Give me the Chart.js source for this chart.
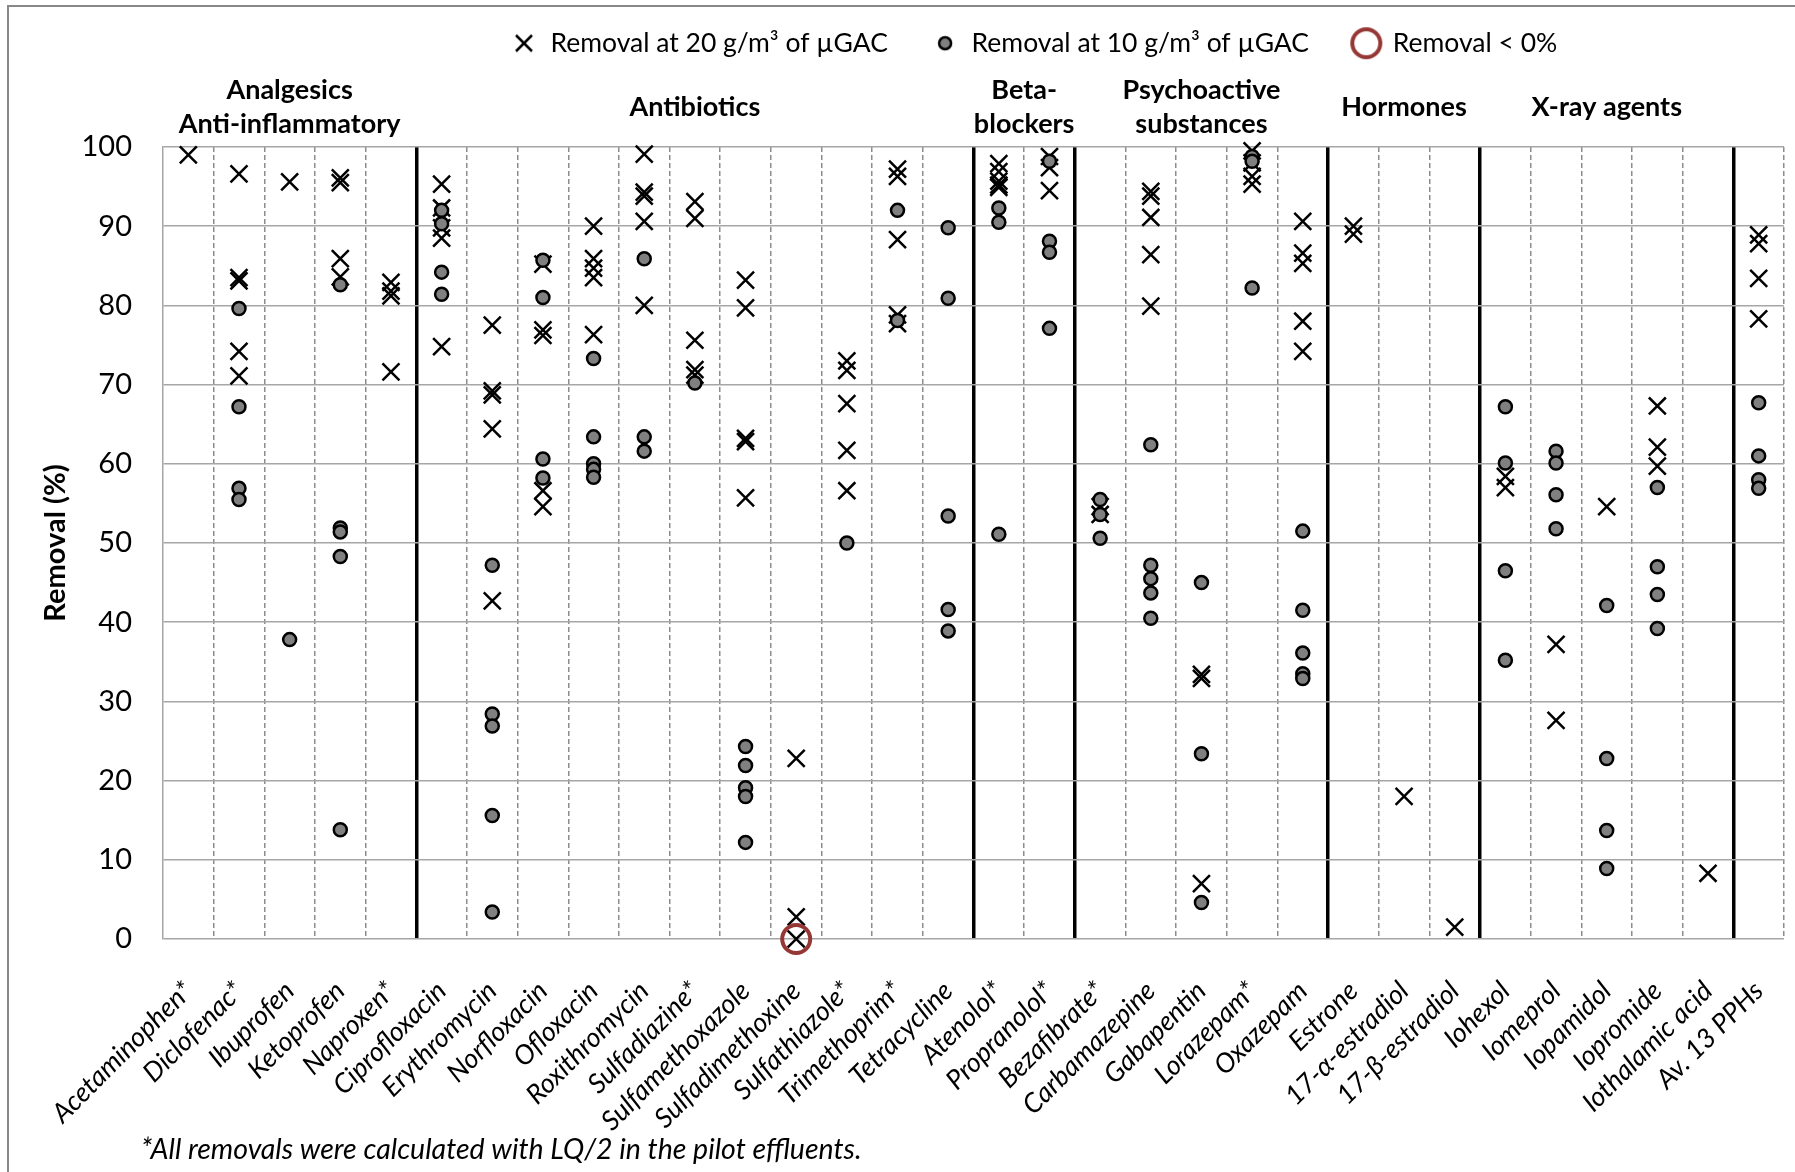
<!DOCTYPE html>
<html>
<head>
<meta charset="utf-8">
<script src="https://cdn.jsdelivr.net/npm/chart.js@4.4.0/dist/chart.umd.min.js"></script>
<style>
  html, body { margin: 0; padding: 0; background: #fff; }
  #wrap { width: 1795px; height: 1172px; }
</style>
</head>
<body>
<div id="wrap"><canvas id="chart" width="1795" height="1172"></canvas></div>
<script>
// categories on the x axis
const categories = ['Acetaminophen*', 'Diclofenac*', 'Ibuprofen', 'Ketoprofen', 'Naproxen*',
  'Ciprofloxacin', 'Erythromycin', 'Norfloxacin', 'Ofloxacin', 'Roxithromycin', 'Sulfadiazine*',
  'Sulfamethoxazole', 'Sulfadimethoxine', 'Sulfathiazole*', 'Trimethoprim*', 'Tetracycline',
  'Atenolol*', 'Propranolol*', 'Bezafibrate*', 'Carbamazepine', 'Gabapentin', 'Lorazepam*',
  'Oxazepam', 'Estrone', '17-α-estradiol', '17-β-estradiol', 'Iohexol', 'Iomeprol',
  'Iopamidol', 'Iopromide', 'Iothalamic acid', 'Av. 13 PPHs'];

// compound groups (header text, number of compounds)
const groupNames = [['Analgesics', 'Anti-inflammatory'], ['Antibiotics'], ['Beta-', 'blockers'],
  ['Psychoactive', 'substances'], ['Hormones'], ['X-ray agents'], []];
const groupSizes = [5, 11, 2, 5, 3, 5, 1];

// removal (%) at 20 g/m3 of µGAC, one list per compound
const removal20 = [
  [99], [96.6, 83.5, 83.1, 74.2, 71.1], [95.6], [96.1, 95.5, 85.9, 83.6], [82.9, 81.8, 81.2, 71.6],
  [95.3, 92.3, 89.8, 88.5, 74.8], [77.5, 69.2, 68.7, 64.4, 42.7], [85.2, 76.9, 76.2, 56.6, 54.6],
  [90.0, 85.9, 84.7, 83.5, 76.3], [99.1, 94.3, 93.8, 90.6, 80.0], [93.1, 91.0, 75.6, 71.9, 71.2],
  [83.2, 79.7, 63.2, 62.8, 55.7], [22.8, 2.8, 0], [73.0, 71.8, 67.6, 61.7, 56.6],
  [97.2, 96.3, 88.3, 78.8, 77.7], [],
  [97.9, 96.9, 95.7, 95.2, 94.9], [98.8, 97.4, 94.5],
  [54.6, 53.6], [94.4, 93.8, 91.1, 86.4, 79.9], [33.4, 32.9, 7.0], [99.5, 98.0, 96.3, 95.3],
  [90.6, 86.6, 85.3, 78.0, 74.2],
  [90.0, 89.0], [18.0], [1.5],
  [58.4, 57.0], [37.2, 27.6], [54.6], [67.3, 62.1, 59.7], [8.3],
  [88.9, 87.8, 83.4, 78.3]
];

// removal (%) at 10 g/m3 of µGAC
const removal10 = [
  [], [79.6, 67.2, 56.9, 55.5], [37.8], [82.6, 51.9, 51.4, 48.3, 13.8], [],
  [92.0, 90.3, 84.2, 81.4], [47.2, 28.4, 26.9, 15.6, 3.4], [85.7, 81.0, 60.6, 58.2],
  [73.3, 63.4, 60.0, 59.3, 58.3], [85.9, 63.4, 61.6], [70.2],
  [24.3, 21.9, 19.1, 18.0, 12.2], [], [50.0],
  [92.0, 78.1], [89.8, 80.9, 53.4, 41.6, 38.9],
  [92.3, 90.5, 51.1], [98.2, 88.1, 86.7, 77.1],
  [55.5, 53.6, 50.6], [62.4, 47.2, 45.5, 43.7, 40.5], [45.0, 23.4, 4.6], [98.8, 98.2, 82.2],
  [51.5, 41.5, 36.1, 33.5, 32.9],
  [], [], [],
  [67.2, 60.1, 46.5, 35.2], [61.6, 60.1, 56.1, 51.8], [42.1, 22.8, 13.7, 8.9], [57.0, 47.0, 43.5, 39.2], [],
  [67.7, 61.0, 58.0, 56.9]
];

// removal below 0 % (shown on the 0 line)
const negativeCats = ['Sulfadimethoxine'];
const negativeVals = [0];

const seriesLabels = ['Removal at 20 g/m³ of µGAC', 'Removal at 10 g/m³ of µGAC', 'Removal < 0%'];
const yTicks = { min: 0, max: 100, step: 10 };
const footnote = '*All removals were calculated with LQ/2 in the pilot effluents.';

const FONT = 'Lato, "Open Sans", sans-serif';
const RED = '#953735';

function toPoints(lists) {
  const pts = [];
  lists.forEach((list, i) => list.forEach(v => pts.push({ x: categories[i], y: v })));
  return pts;
}

// boundaries between groups (index of first compound of next group)
const separators = [];
let acc = 0;
groupSizes.slice(0, -1).forEach(n => { acc += n; separators.push(acc); });
const isSep = ctx => ctx.index !== undefined && separators.includes(ctx.index);

// small canvases used as legend symbols
function marker(size, draw) {
  const c = document.createElement('canvas');
  c.width = size; c.height = size;
  draw(c.getContext('2d'), size / 2);
  return c;
}
const legendSymbols = [
  marker(22, (g, m) => {
    g.strokeStyle = '#000'; g.lineWidth = 2.5; g.beginPath();
    g.moveTo(m - 8, m - 8); g.lineTo(m + 8, m + 8); g.moveTo(m + 8, m - 8); g.lineTo(m - 8, m + 8); g.stroke();
  }),
  marker(18, (g, m) => {
    g.fillStyle = '#808080'; g.strokeStyle = '#000'; g.lineWidth = 2.5;
    g.beginPath(); g.arc(m, m, 6, 0, Math.PI * 2); g.fill(); g.stroke();
  }),
  marker(36, (g, m) => {
    g.strokeStyle = RED; g.lineWidth = 4;
    g.beginPath(); g.arc(m, m, 14, 0, Math.PI * 2); g.stroke();
  })
];

const decor = {
  id: 'decor',
  beforeInit(chart) {
    const fit = chart.legend.fit;
    chart.legend.fit = function () { fit.call(this); this.height = 147; };
  },
  afterLayout(chart) {
    const lg = chart.legend;
    lg.left += 142; lg.right += 142; lg.top -= 14;
  },
  afterDraw(chart) {
    const { ctx, chartArea } = chart;
    const xs = chart.scales.x;
    ctx.save();
    // outer frame
    ctx.strokeStyle = '#888'; ctx.lineWidth = 2;
    ctx.beginPath(); ctx.moveTo(8, 1172); ctx.lineTo(8, 6); ctx.lineTo(1795, 6); ctx.stroke();
    // group headers
    ctx.fillStyle = '#000'; ctx.textAlign = 'center'; ctx.textBaseline = 'middle';
    ctx.font = 'bold 27px ' + FONT;
    let start = 0;
    groupNames.forEach((lines, gi) => {
      const end = start + groupSizes[gi] - 1;
      const cx = (xs.getPixelForValue(start) + xs.getPixelForValue(end)) / 2;
      const lh = 34;
      const cy = chartArea.top - 40;
      lines.forEach((t, li) => ctx.fillText(t, cx, cy + (li - (lines.length - 1) / 2) * lh));
      start = end + 1;
    });
    // footnote
    ctx.textAlign = 'left';
    ctx.font = 'italic 28.5px ' + FONT;
    ctx.fillText(footnote, 141, 1150);
    ctx.restore();
  }
};

new Chart(document.getElementById('chart'), {
  type: 'scatter',
  data: {
    labels: categories,
    datasets: [
      {
        label: seriesLabels[0], data: toPoints(removal20), pointStyle: 'crossRot', pointRadius: 12,
        pointBorderWidth: 2.5, pointBorderColor: '#000', pointBackgroundColor: '#000', clip: false, order: 2
      },
      {
        label: seriesLabels[1], data: toPoints(removal10), pointStyle: 'circle', pointRadius: 6.5,
        pointBorderWidth: 2.5, pointBorderColor: '#000', pointBackgroundColor: '#808080', clip: false, order: 1
      },
      {
        label: seriesLabels[2], data: negativeCats.map((c, i) => ({ x: c, y: negativeVals[i] })),
        pointStyle: 'circle', pointRadius: 14, pointBorderWidth: 4, pointBorderColor: RED,
        pointBackgroundColor: 'rgba(0,0,0,0)', clip: false, order: 0
      }
    ]
  },
  options: {
    responsive: false,
    devicePixelRatio: 1,
    animation: false,
    events: [],
    layout: { autoPadding: false, padding: { left: 0, right: 11, top: 0, bottom: 0 } },
    plugins: {
      tooltip: { enabled: false },
      legend: {
        position: 'top',
        labels: {
          usePointStyle: true,
          padding: 44,
          color: '#000',
          font: { family: FONT, size: 26.5 },
          generateLabels: () => seriesLabels.map((t, i) => ({
            text: t, pointStyle: legendSymbols[i], datasetIndex: i, hidden: false,
            fillStyle: 'transparent', strokeStyle: 'transparent', lineWidth: 0, fontColor: '#000'
          }))
        }
      }
    },
    scales: {
      x: {
        type: 'category',
        offset: true,
        grid: {
          offset: true, drawTicks: false,
          color: ctx => ctx.index === 0 ? 'rgba(0,0,0,0)' : (isSep(ctx) ? '#000' : '#8C8C8C'),
          lineWidth: ctx => isSep(ctx) ? 3.5 : 1.5
        },
        border: { display: false, dash: ctx => isSep(ctx) ? [] : [5, 3] },
        ticks: {
          autoSkip: false, minRotation: 45, maxRotation: 45, padding: 36,
          color: '#000', font: { family: FONT, size: 27, style: 'italic' }
        },
        afterFit(scale) {
          scale.height = 233;
          scale.paddingLeft = 0;
          scale.paddingRight = 0;
        }
      },
      y: {
        min: yTicks.min, max: yTicks.max,
        ticks: { stepSize: yTicks.step, padding: 31, color: '#000', font: { family: FONT, size: 29 } },
        grid: { color: '#A6A6A6', lineWidth: 1.5, drawTicks: false },
        border: { display: true, color: '#A6A6A6', width: 1.5 },
        title: {
          display: true, text: 'Removal (%)', color: '#000',
          font: { family: FONT, size: 29, weight: 'bold' }, padding: { top: 38, bottom: 0 }
        },
        afterFit(scale) { scale.width = 163; }
      }
    }
  },
  plugins: [decor]
});
</script>
</body>
</html>
